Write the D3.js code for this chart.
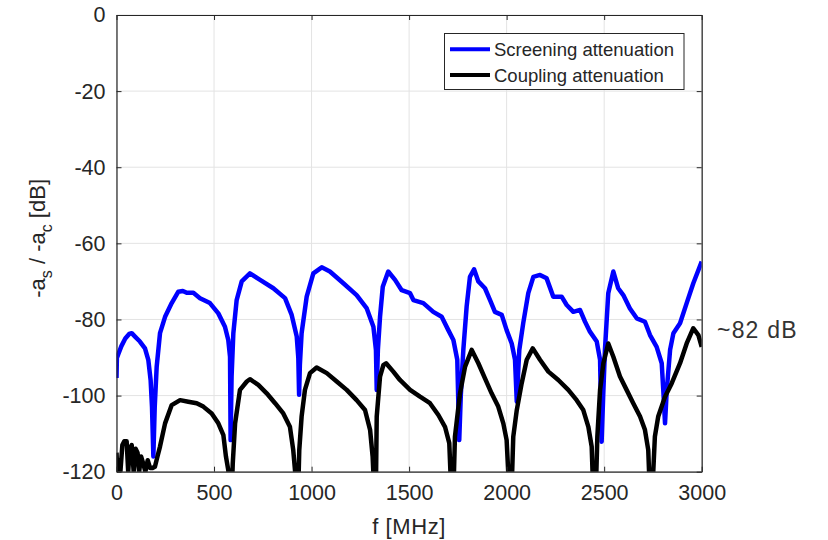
<!DOCTYPE html>
<html>
<head>
<meta charset="utf-8">
<script src="https://cdn.jsdelivr.net/npm/d3@7"></script>
<style>
	body { margin: 0; background: #fff; }
	text { font-family: "Liberation Sans", Arial, Helvetica, sans-serif; fill: #262626; }
</style>
</head>
<body>
<svg id="chart" width="828" height="540"></svg>
<script>

// Screening attenuation (blue), frequency in MHz / level in dB
var screeningFreq = [0, 2, 10, 25, 45, 65, 78, 95, 120, 146, 163, 175, 182, 189, 196, 206, 223, 249, 283, 317, 340, 360, 394, 428, 479, 522, 556, 573, 582, 585, 590, 599, 616, 642, 684, 736, 804, 864, 898, 924, 932, 936, 940, 949, 975, 1009, 1052, 1094, 1163, 1231, 1283, 1317, 1330, 1334, 1340, 1351, 1365, 1393, 1428, 1462, 1505, 1522, 1573, 1624, 1667, 1701, 1727, 1747, 1757, 1765, 1778, 1795, 1812, 1833, 1855, 1889, 1915, 1940, 1975, 2000, 2026, 2043, 2052, 2058, 2065, 2085, 2111, 2137, 2171, 2205, 2239, 2282, 2308, 2342, 2376, 2402, 2427, 2462, 2479, 2487, 2495, 2504, 2521, 2547, 2572, 2598, 2632, 2667, 2709, 2735, 2769, 2795, 2803, 2812, 2821, 2838, 2855, 2889, 2923, 2957, 3000];
var screeningDb = [-95.4, -90.1, -89, -87, -85, -83.8, -83.6, -84.5, -85.8, -87.6, -90.6, -96, -103, -116, -103, -92.4, -83.6, -79.3, -75.7, -72.7, -72.5, -73, -73, -74.4, -75.7, -78.4, -81.9, -85.4, -89.8, -111.7, -95, -83.6, -74.9, -70, -67.9, -69.6, -71.8, -74.4, -78.8, -84.5, -90, -99.8, -92, -83.6, -74, -67.9, -66.3, -67.4, -70.5, -73.6, -77.1, -81.9, -88, -98.5, -88, -79.3, -71.4, -67.4, -69.6, -72.3, -73.1, -74.9, -75.7, -78, -79.3, -82.8, -85.4, -90.6, -111.7, -100, -88, -76.6, -68.8, -66.8, -70, -71.8, -74.9, -78, -78.8, -82.8, -86.3, -90.6, -101.6, -95, -88, -81, -73.1, -68.8, -68.3, -69.2, -74, -74, -76.2, -78, -77.5, -80.6, -83.2, -85.8, -90.6, -112.1, -100, -88, -73.1, -67.4, -71.8, -73.6, -77.1, -79.7, -80.6, -84.1, -87.2, -91.5, -98.5, -107.3, -98.5, -88, -83.6, -81, -75.7, -70.5, -64.8];

// Coupling attenuation (black)
var couplingFreq = [0, 4, 12, 20, 30, 40, 52, 60, 68, 78, 88, 98, 108, 116, 126, 138, 148, 160, 172, 185, 197, 210, 223, 249, 283, 326, 368, 411, 445, 488, 522, 548, 561, 573, 580, 592, 596, 608, 633, 668, 684, 727, 770, 813, 855, 889, 906, 915, 922, 932, 937, 949, 966, 992, 1026, 1078, 1129, 1180, 1231, 1274, 1300, 1313, 1320, 1330, 1334, 1351, 1368, 1382, 1419, 1453, 1505, 1556, 1607, 1650, 1684, 1706, 1715, 1728, 1735, 1761, 1787, 1821, 1855, 1889, 1923, 1957, 1983, 2000, 2012, 2026, 2034, 2052, 2077, 2103, 2134, 2171, 2214, 2265, 2316, 2359, 2393, 2419, 2436, 2443, 2458, 2465, 2479, 2496, 2521, 2547, 2581, 2615, 2649, 2684, 2709, 2726, 2733, 2748, 2760, 2777, 2812, 2846, 2889, 2923, 2957, 2983, 3000];
var couplingDb = [-115, -120, -117, -120, -113, -112, -112, -120, -114, -113, -120, -114, -115, -120, -116, -118, -120, -117, -119, -119, -118.7, -116, -113.4, -107.3, -102.5, -101.2, -101.6, -102, -102.9, -104.7, -107.3, -110.4, -116, -119.6, -124, -124, -117.8, -107.3, -98.5, -96.3, -95.7, -97.2, -99.4, -102, -104.7, -108.2, -114.3, -119.6, -124, -124, -114.3, -105.5, -98.5, -94.1, -92.6, -94.1, -96.3, -98.5, -101.2, -103.8, -109, -116, -124, -124, -105.5, -95, -92, -91.5, -93.7, -95.9, -98.5, -100.3, -102, -105.1, -108.2, -112.5, -124, -124, -110.8, -99.4, -92.4, -88, -91.5, -95.5, -99.4, -102.9, -107.3, -111.7, -124, -124, -110.8, -103.8, -96.8, -90.6, -87.6, -90.6, -93.7, -95.9, -98.5, -101.2, -103.8, -108.2, -113.4, -124, -124, -110.8, -98.5, -91.5, -86.3, -89.8, -95, -98.5, -102, -105.5, -109, -114.3, -124, -124, -110.8, -105.5, -100.3, -96.8, -91.5, -86.3, -82.3, -84.1, -87.2];

var xTicks = [0, 500, 1000, 1500, 2000, 2500, 3000];
var yTicks = [0, -20, -40, -60, -80, -100, -120];
var seriesNames = ["Screening attenuation", "Coupling attenuation"];
var seriesColors = ["#0000ff", "#000000"];

(function () {

	var svg = d3.select("#chart");

	var plotLeft = 116.5, plotRight = 701.7, plotTop = 15, plotBottom = 471.7;

	var x = d3.scaleLinear().domain([0, 3000]).range([plotLeft, plotRight]);
	var y = d3.scaleLinear().domain([-120, 0]).range([plotBottom, plotTop]);

	// grid
	svg.append("g").selectAll("line").data(xTicks).enter().append("line")
	.attr("x1", function (d) { return x(d); })
	.attr("x2", function (d) { return x(d); })
	.attr("y1", plotTop).attr("y2", plotBottom)
	.style("stroke", "#e3e3e3").style("stroke-width", 1);

	svg.append("g").selectAll("line").data(yTicks).enter().append("line")
	.attr("y1", function (d) { return y(d); })
	.attr("y2", function (d) { return y(d); })
	.attr("x1", plotLeft).attr("x2", plotRight)
	.style("stroke", "#e3e3e3").style("stroke-width", 1);

	// data
	svg.append("clipPath").attr("id", "plotclip")
	.append("rect").attr("x", plotLeft).attr("y", plotTop)
	.attr("width", plotRight - plotLeft).attr("height", plotBottom - plotTop);

	var line = d3.line()
	.x(function (d) { return x(d[0]); })
	.y(function (d) { return y(d[1]); });

	var series = [
		d3.zip(screeningFreq, screeningDb),
		d3.zip(couplingFreq, couplingDb)
	];

	svg.append("g").attr("clip-path", "url(#plotclip)")
	.selectAll("path").data(series).enter().append("path")
	.attr("d", line)
	.style("fill", "none")
	.style("stroke", function (d, i) { return seriesColors[i]; })
	.style("stroke-width", 4.5)
	.style("stroke-linejoin", "round");

	// axes (box with inward ticks), plain hyphen for negatives
	var fmt = function (d) { return String(d); };
	var xAxisB = d3.axisBottom(x).tickValues(xTicks).tickFormat(fmt).tickSizeInner(-5).tickSizeOuter(0).tickPadding(13);
	var xAxisT = d3.axisTop(x).tickValues(xTicks).tickSizeInner(-5).tickSizeOuter(0).tickFormat("");
	var yAxisL = d3.axisLeft(y).tickValues(yTicks).tickFormat(fmt).tickSizeInner(-5).tickSizeOuter(0).tickPadding(11);
	var yAxisR = d3.axisRight(y).tickValues(yTicks).tickSizeInner(-5).tickSizeOuter(0).tickFormat("");

	function styleAxis(g) {
		g.select(".domain").style("stroke", "#262626").style("stroke-width", 1.2);
		g.selectAll(".tick line").style("stroke", "#262626");
		g.selectAll(".tick text").style("font-size", "21.5px").style("fill", "#262626")
		.style("font-family", "'Liberation Sans', Arial, sans-serif");
	}

	svg.append("g").attr("transform", "translate(0," + plotBottom + ")").call(xAxisB).call(styleAxis);
	svg.append("g").attr("transform", "translate(0," + plotTop + ")").call(xAxisT).call(styleAxis);
	svg.append("g").attr("transform", "translate(" + plotLeft + ",0)").call(yAxisL).call(styleAxis);
	svg.append("g").attr("transform", "translate(" + plotRight + ",0)").call(yAxisR).call(styleAxis);

	// axis titles
	svg.append("text")
	.attr("x", (plotLeft + plotRight) / 2)
	.attr("y", 534)
	.style("font-size", "22px")
	.style("letter-spacing", "0.6px")
	.style("text-anchor", "middle")
	.text("f [MHz]");

	var ylab = svg.append("text")
	.attr("transform", "translate(45," + ((plotTop + plotBottom) / 2 - 5) + ") rotate(-90)")
	.style("font-size", "22px")
	.style("text-anchor", "middle");
	ylab.append("tspan").text("-a");
	ylab.append("tspan").attr("dy", 7).style("font-size", "16px").text("s");
	ylab.append("tspan").attr("dy", -7).text(" / -a");
	ylab.append("tspan").attr("dy", 7).style("font-size", "16px").text("c");
	ylab.append("tspan").attr("dy", -7).text(" [dB]");

	// annotation
	svg.append("text")
	.attr("x", 717)
	.attr("y", 338)
	.style("font-size", "23px")
	.style("letter-spacing", "1.2px")
	.style("fill", "#333")
	.text("~82 dB");

	// legend
	var legend = svg.append("g");

	legend.append("rect")
	.attr("x", 444.5).attr("y", 33.5).attr("width", 239.5).attr("height", 56)
	.style("fill", "#fff").style("stroke", "#262626").style("stroke-width", 1);

	var items = legend.selectAll("g.item").data(seriesNames).enter().append("g")
	.attr("class", "item")
	.attr("transform", function (d, i) { return "translate(0," + (49.3 + i * 25.7) + ")"; });

	items.append("line")
	.attr("x1", 450).attr("x2", 490).attr("y1", 0).attr("y2", 0)
	.style("stroke", function (d, i) { return seriesColors[i]; })
	.style("stroke-width", 4);

	items.append("text")
	.attr("x", 494)
	.attr("y", 7)
	.style("font-size", "18.5px")
	.text(function (d) { return d; });

})();

</script>
</body>
</html>
